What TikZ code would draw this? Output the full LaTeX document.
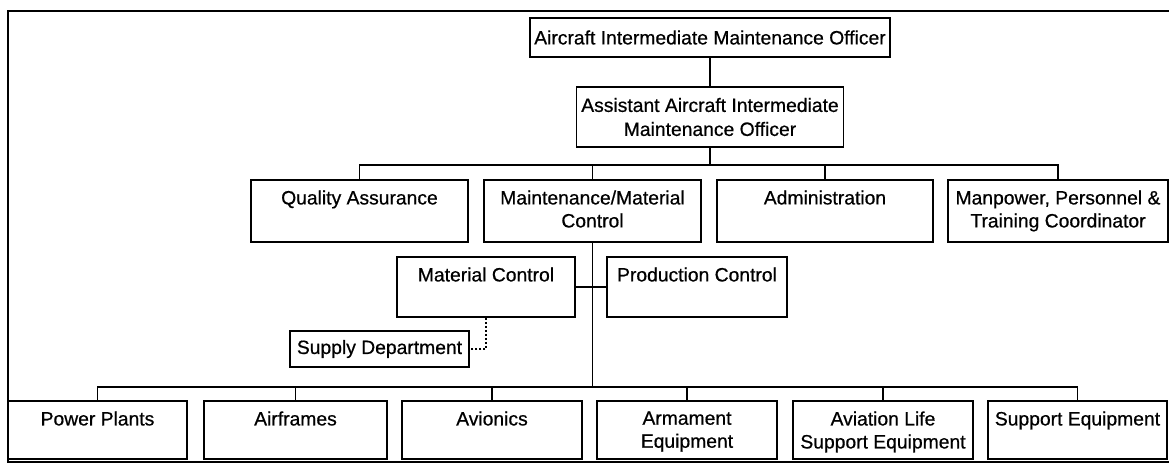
\documentclass[tikz,border=0pt]{standalone}
\usepackage{fontspec}
\setmainfont[FakeBold=0.6]{Liberation Sans}
\begin{document}
\begin{tikzpicture}[x=1pt,y=-1pt,
  box/.style={draw, line width=1.5pt, rectangle, inner sep=0pt},
  txt/.style={font=\fontsize{19.3}{23}\selectfont, align=center, inner sep=0pt, anchor=north},
  ctxt/.style={font=\fontsize{19.3}{24}\selectfont, align=center},
  conn/.style={line width=1.5pt},
  dotconn/.style={line width=2pt, dotted},
  frame/.style={line width=2.6pt}]
\useasboundingbox (0,0) rectangle (1169,469);
\fill[white] (0,0) rectangle (1169,469);
% outer frame (right edge lies outside the picture)
\draw[frame] (1171,11) -- (8,11) -- (8,462) -- (1171,462);

% top levels
\node[box, ctxt, minimum width=360pt, minimum height=39pt] (aimo) at (710,37.5) {Aircraft Intermediate Maintenance Officer};
\node[box, ctxt, minimum width=267pt, minimum height=60pt] (asst) at (710,117) {Assistant Aircraft Intermediate\\Maintenance Officer};

% second row
\node[box, minimum width=217pt, minimum height=62pt] (qa)  at (359.5,211) {};
\node[box, minimum width=217pt, minimum height=62pt] (mm)  at (592.5,211) {};
\node[box, minimum width=216pt, minimum height=62pt] (adm) at (825,211) {};
\node[box, minimum width=220pt, minimum height=62pt] (mpt) at (1058,211) {};
\node[txt] (qa-t)  at ([yshift=-11pt]qa.north)  {Quality Assurance};
\node[txt] (mm-t)  at ([yshift=-11pt]mm.north)  {Maintenance/Material\\Control};
\node[txt] (adm-t) at ([yshift=-11pt]adm.north) {Administration};
\node[txt] (mpt-t) at ([yshift=-11pt]mpt.north) {Manpower, Personnel \&\\Training Coordinator};

% third row
\node[box, minimum width=178pt, minimum height=60pt] (mc) at (486,287) {};
\node[box, minimum width=180pt, minimum height=60pt] (pc) at (697,287) {};
\node[txt] (mc-t) at ([yshift=-11pt]mc.north) {Material Control};
\node[txt] (pc-t) at ([yshift=-11pt]pc.north) {Production Control};
\node[box, ctxt, minimum width=179pt, minimum height=36pt] (sd) at (379.5,349) {Supply Department};

% bottom row
\node[box, minimum width=179pt, minimum height=58pt] (pp) at (97.5,430) {};
\node[box, minimum width=183pt, minimum height=58pt] (af) at (295.5,430) {};
\node[box, minimum width=180pt, minimum height=58pt] (av) at (492,430) {};
\node[box, minimum width=180pt, minimum height=58pt] (ar) at (687,430) {};
\node[box, minimum width=180pt, minimum height=58pt] (al) at (883,430) {};
\node[box, minimum width=179pt, minimum height=58pt] (se) at (1077.5,430) {};
\node[txt] (pp-t) at ([yshift=-11pt]pp.north) {Power Plants};
\node[txt] (af-t) at ([yshift=-11pt]af.north) {Airframes};
\node[txt] (av-t) at ([yshift=-11pt]av.north) {Avionics};
\node[txt] (ar-t) at ([yshift=-11pt]ar.north) {Armament\\Equipment};
\node[txt] (al-t) at ([yshift=-11pt]al.north) {Aviation Life\\Support Equipment};
\node[txt] (se-t) at ([yshift=-11pt]se.north) {Support Equipment};

% bus coordinates
\coordinate (bus1) at (710,165);
\coordinate (bus2) at (592.5,387);

% connectors
\draw[conn] (aimo.south) -- (asst.north);
\draw[conn] (asst.south) -- (bus1);
\draw[conn] (qa.north) -- (qa.north |- bus1) -- (mpt.north |- bus1) -- (mpt.north);
\draw[conn] (mm.north) -- (mm.north |- bus1);
\draw[conn] (adm.north) -- (adm.north |- bus1);

\draw[conn] (mm.south) -- (bus2);
\draw[conn] (mc.east) -- (pc.west);
\draw[dotconn] (mc.south) |- (sd.east);

\draw[conn] (pp.north) -- (pp.north |- bus2) -- (se.north |- bus2) -- (se.north);
\draw[conn] (af.north) -- (af.north |- bus2);
\draw[conn] (av.north) -- (av.north |- bus2);
\draw[conn] (ar.north) -- (ar.north |- bus2);
\draw[conn] (al.north) -- (al.north |- bus2);
\end{tikzpicture}
\end{document}
